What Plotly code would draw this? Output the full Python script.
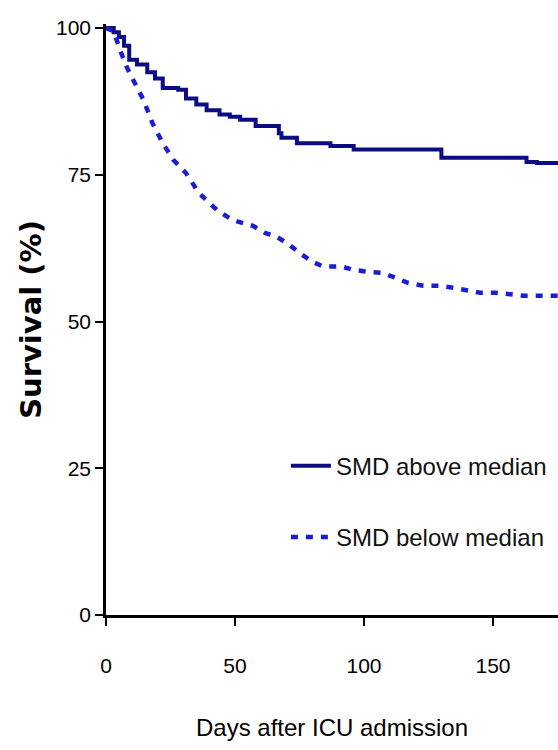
import plotly.graph_objects as go

# Kaplan-Meier style survival curves
days_above = [0, 3, 5, 7, 9, 12, 16, 19, 22, 28, 31, 35, 39, 44, 48, 52, 58, 67, 68, 74, 87, 96, 130, 163, 167, 176]
surv_above = [100, 99.3, 98.5, 97.0, 94.6, 93.8, 92.5, 91.4, 89.8, 89.5, 88.0, 87.0, 86.0, 85.3, 84.9, 84.4, 83.3,
              82.1, 81.3, 80.4, 79.9, 79.3, 77.9, 77.2, 77.0, 77.0]

days_below = [0, 3, 5.4, 8, 10.5, 14.5, 18, 22, 26, 31, 36, 43, 49, 53, 57, 61.6, 66, 71, 75, 80, 84, 91, 96,
              101.5, 107, 112, 117, 123, 129, 134, 140, 145, 151, 157, 162, 176]
surv_below = [100, 99.5, 96.3, 93.4, 91.2, 87.8, 83.8, 80.4, 77.6, 75.3, 71.9, 69.0, 67.3, 66.8, 66.3, 65.1, 64.5,
              63.1, 61.7, 60.2, 59.4, 59.4, 58.8, 58.5, 58.3, 57.5, 56.6, 56.1, 56.1, 55.8, 55.4, 54.9, 54.9, 54.6,
              54.4, 54.4]

series_names = ["SMD above median", "SMD below median"]
x_ticks = [0, 50, 100, 150]
y_ticks = [0, 25, 50, 75, 100]

SANS = "Liberation Sans, Arial, sans-serif"

fig = go.Figure()
fig.add_trace(go.Scatter(
    x=days_above, y=surv_above, mode="lines", name=series_names[0],
    line=dict(color="#0c0c82", width=4, shape="hv"), legendgroup="a"))
fig.add_trace(go.Scatter(
    x=days_below, y=surv_below, mode="lines", name=series_names[1],
    line=dict(color="#1c1cd6", width=4.5, dash="7px,8px"), legendgroup="b"))

fig.update_layout(
    width=558, height=750,
    margin=dict(l=106, r=0, t=24, b=135, autoexpand=False),
    paper_bgcolor="white", plot_bgcolor="white",
    showlegend=True,
    legend=dict(x=0.398, y=0.29, xanchor="left", yanchor="top",
                font=dict(family=SANS, size=24, color="#111"),
                bgcolor="rgba(0,0,0,0)", tracegroupgap=37, traceorder="grouped",
                itemwidth=40),
    xaxis=dict(range=[0, 175.2], tickvals=x_ticks, showgrid=False, zeroline=False,
               showline=True, linecolor="black", linewidth=2.5,
               ticks="outside", ticklen=8, tickwidth=2, tickcolor="black",
               ticklabelstandoff=22,
               tickfont=dict(family=SANS, size=21, color="black"),
               title=dict(text="Days after ICU admission", standoff=44,
                          font=dict(family=SANS, size=24, color="black"))),
    yaxis=dict(range=[0, 100.7], tickvals=y_ticks, showgrid=False, zeroline=False,
               showline=True, linecolor="black", linewidth=2.5,
               ticks="outside", ticklen=8, tickwidth=2, tickcolor="black",
               tickfont=dict(family=SANS, size=21, color="black"),
               title=dict(text="<b>Survival (%)</b>", standoff=6,
                          font=dict(family="DejaVu Sans, sans-serif", size=29, color="black"))),
)

fig.write_html("out.html", config={"displayModeBar": False},
               post_script="document.body.style.margin='0px';")
